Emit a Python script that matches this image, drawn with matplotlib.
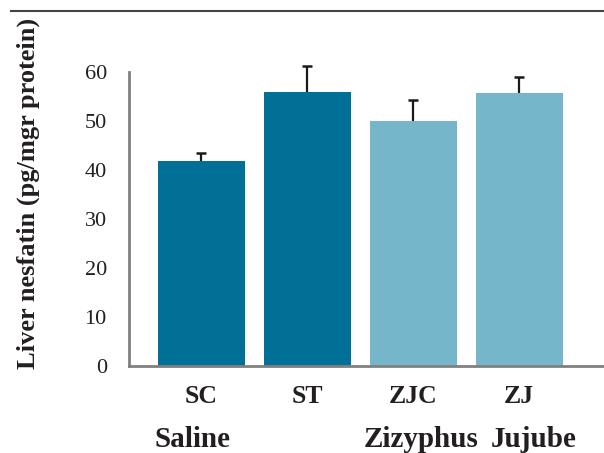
import matplotlib
matplotlib.use("Agg")
import matplotlib.pyplot as plt
from matplotlib.lines import Line2D
import numpy as np

plt.rcParams.update({
    "font.family": "serif",
    "font.serif": ["Liberation Serif", "DejaVu Serif"],
})

C_SALINE = "#007096"
C_ZIZ = "#76B6CA"
C_TEXT = "#231f20"

# data
groups = ["SC", "ST", "ZJC", "ZJ"]
means = np.array([41.8, 55.9, 50.0, 55.7])
errors = np.array([1.7, 5.4, 4.3, 3.3])
colors = [C_SALINE, C_SALINE, C_ZIZ, C_ZIZ]
y_ticks = [0, 10, 20, 30, 40, 50, 60]

# second-row treatment labels and where they sit (bar index)
treat_labels = ["Saline", "Zizyphus", "Jujube"]
treat_pos = [-0.08, 2.07, 3.14]

fig = plt.figure(figsize=(6.04, 4.53), dpi=100)
ax = fig.add_axes([0.2136, 0.192, 0.7864, 0.649])

x = np.arange(len(groups))
ax.bar(x, means, width=0.82, color=colors, zorder=2)
# only the upper half of each error bar is shown
ax.vlines(x, means, means + errors, color="#1a1a1a", lw=1.6, zorder=3,
          clip_on=False)
ax.hlines(means + errors, x - 0.045, x + 0.045, color="#1a1a1a", lw=1.8,
          zorder=3, clip_on=False)

ax.set_xlim(-0.68, 3.8)
ax.set_ylim(0, 60)
ax.set_yticks(y_ticks)
ax.set_yticklabels([str(v) for v in y_ticks], fontsize=16, color=C_TEXT)
ax.tick_params(axis="y", length=0, pad=16)
ax.set_xticks(x)
ax.set_xticklabels(groups, fontsize=18.5, fontweight="bold", color=C_TEXT)
ax.tick_params(axis="x", length=0, pad=14)

for s in ("top", "right"):
    ax.spines[s].set_visible(False)
for s in ("left", "bottom"):
    ax.spines[s].set_color("#808080")
    ax.spines[s].set_linewidth(2)

for lab, pos in zip(treat_labels, treat_pos):
    ax.text(pos, -0.25, lab, transform=ax.get_xaxis_transform(),
            ha="center", va="center", fontsize=21, fontweight="bold",
            color=C_TEXT)

fig.text(28 / 604, 1 - 193 / 453, "Liver nesfatin (pg/mgr protein)",
         rotation=90, ha="center", va="center", fontsize=19,
         fontweight="bold", color=C_TEXT)

# rule across the top
fig.add_artist(Line2D([11 / 604, 1.0], [1 - 10.8 / 453] * 2,
                      transform=fig.transFigure, color="#444444", lw=1.5))

fig.savefig("out.png", dpi=100)
plt.close(fig)
